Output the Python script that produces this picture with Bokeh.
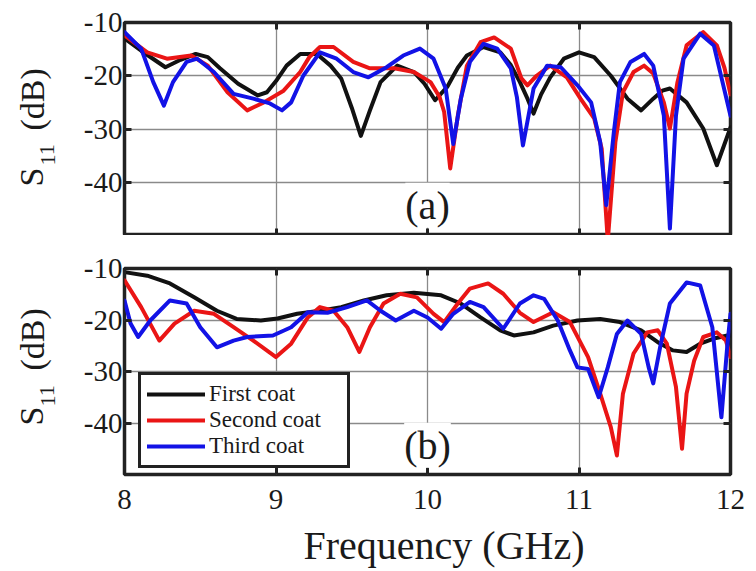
from bokeh.plotting import figure
from bokeh.layouts import column, row
from bokeh.models import (Range1d, Label, Legend, LegendItem, LinearAxis,
                          FixedTicker, Grid)
from bokeh.core.properties import value
from bokeh.embed import file_html
from bokeh.resources import INLINE

# ---------------- data (frequency in GHz, S11 in dB) ----------------
# panel (a)
a_first_x = [8.00, 8.11, 8.27, 8.37, 8.47, 8.55, 8.63, 8.75, 8.88, 8.94, 9.00, 9.07, 9.16, 9.27,
             9.36, 9.43, 9.50, 9.56, 9.62, 9.69, 9.80, 9.91, 9.98, 10.05, 10.13, 10.20, 10.26,
             10.37, 10.48, 10.55, 10.61, 10.66, 10.70, 10.75, 10.81, 10.90, 11.00, 11.10, 11.21,
             11.32, 11.41, 11.49, 11.55, 11.60, 11.71, 11.82, 11.91, 12.00]
a_first_y = [-13.0, -15.3, -18.4, -17.0, -15.9, -16.5, -18.6, -21.5, -23.7, -23.1, -21.0, -18.1,
             -15.9, -15.9, -18.1, -20.5, -26.0, -31.3, -26.5, -21.2, -18.1, -19.3, -21.5, -24.6,
             -22.1, -18.5, -16.2, -14.6, -15.6, -18.0, -21.2, -24.3, -27.1, -23.5, -20.3, -16.8,
             -15.6, -16.5, -20.0, -24.3, -26.5, -24.3, -22.8, -22.4, -25.0, -29.9, -36.8, -29.7]

a_second_x = [8.00, 8.15, 8.28, 8.44, 8.55, 8.68, 8.81, 8.92, 9.05, 9.16, 9.22, 9.29, 9.38, 9.51,
              9.62, 9.78, 9.91, 10.02, 10.08, 10.11, 10.15, 10.20, 10.26, 10.35, 10.44, 10.55,
              10.62, 10.66, 10.72, 10.81, 10.92, 11.01, 11.10, 11.15, 11.19, 11.24, 11.29, 11.36,
              11.43, 11.49, 11.56, 11.60, 11.65, 11.71, 11.82, 11.91, 11.96, 12.00]
a_second_y = [-12.4, -15.6, -16.8, -16.2, -18.1, -23.1, -26.5, -25.0, -22.8, -19.3, -16.5, -14.6,
              -14.6, -17.4, -18.6, -18.6, -19.3, -21.2, -24.0, -26.8, -37.4, -27.5, -18.1, -13.7,
              -12.8, -14.9, -20.5, -21.8, -20.0, -18.1, -20.3, -24.3, -28.0, -33.7, -51.0, -32.5,
              -23.1, -19.3, -18.1, -19.6, -25.0, -29.9, -21.2, -14.3, -11.8, -14.3, -18.5, -23.5]

a_third_x = [8.00, 8.11, 8.19, 8.26, 8.32, 8.41, 8.48, 8.59, 8.72, 8.85, 8.96, 9.04, 9.10, 9.18,
             9.29, 9.40, 9.51, 9.61, 9.73, 9.84, 9.95, 10.04, 10.12, 10.17, 10.22, 10.28, 10.37,
             10.46, 10.55, 10.59, 10.63, 10.70, 10.79, 10.88, 10.99, 11.08, 11.14, 11.18, 11.23,
             11.27, 11.34, 11.43, 11.49, 11.56, 11.60, 11.64, 11.69, 11.80, 11.89, 12.00]
a_third_y = [-11.8, -14.9, -21.2, -25.6, -21.2, -17.4, -16.8, -19.3, -23.4, -24.3, -25.2, -26.5,
             -25.0, -20.0, -15.6, -16.8, -19.3, -20.3, -18.4, -16.2, -14.9, -16.8, -22.4, -32.8,
             -24.3, -17.4, -14.0, -14.9, -18.6, -24.0, -33.1, -22.4, -18.1, -18.4, -21.8, -25.0,
             -32.5, -44.3, -30.6, -21.2, -17.4, -15.9, -18.1, -27.5, -48.7, -27.5, -16.8, -12.1,
             -14.3, -27.5]

# panel (b)
b_first_x = [8.00, 8.15, 8.30, 8.46, 8.61, 8.74, 8.90, 9.01, 9.14, 9.29, 9.43, 9.58, 9.73, 9.91,
             10.09, 10.22, 10.35, 10.48, 10.57, 10.70, 10.83, 10.99, 11.14, 11.27, 11.41, 11.52,
             11.62, 11.71, 11.80, 11.89, 11.98, 12.00]
b_first_y = [-10.7, -11.4, -12.9, -15.6, -18.2, -19.8, -20.1, -19.7, -18.8, -18.2, -17.5, -16.2,
             -15.2, -14.7, -15.2, -16.8, -19.5, -22.0, -23.0, -22.4, -21.1, -20.1, -19.8, -20.4,
             -22.0, -24.3, -25.9, -26.2, -24.6, -23.6, -23.0, -23.0]

b_second_x = [8.00, 8.11, 8.23, 8.33, 8.46, 8.59, 8.72, 8.85, 9.00, 9.10, 9.21, 9.29, 9.38, 9.47,
              9.55, 9.62, 9.71, 9.82, 9.93, 10.04, 10.11, 10.20, 10.28, 10.40, 10.50, 10.61, 10.70,
              10.83, 10.94, 11.06, 11.14, 11.21, 11.25, 11.29, 11.36, 11.45, 11.52, 11.58, 11.64,
              11.68, 11.71, 11.76, 11.82, 11.91, 11.97, 12.00]
b_second_y = [-12.3, -17.5, -24.0, -20.7, -18.2, -18.8, -21.4, -24.0, -27.2, -24.6, -19.5, -17.5,
              -18.2, -21.4, -26.2, -21.4, -16.8, -14.9, -15.6, -18.8, -20.4, -16.8, -13.9, -12.9,
              -14.9, -18.6, -20.4, -18.5, -20.4, -27.2, -34.3, -40.8, -46.3, -34.3, -26.5, -22.4,
              -22.0, -24.6, -33.0, -45.0, -34.3, -27.9, -23.3, -22.4, -24.0, -27.2]

b_third_x = [8.00, 8.04, 8.09, 8.17, 8.30, 8.41, 8.50, 8.61, 8.72, 8.81, 8.98, 9.10, 9.21, 9.34,
             9.47, 9.60, 9.69, 9.79, 9.91, 10.00, 10.09, 10.17, 10.28, 10.37, 10.50, 10.61, 10.70,
             10.77, 10.86, 10.94, 10.99, 11.06, 11.13, 11.19, 11.25, 11.32, 11.41, 11.46, 11.49,
             11.54, 11.60, 11.71, 11.80, 11.88, 11.94, 11.98, 12.00]
b_third_y = [-16.2, -20.7, -23.3, -20.1, -16.2, -16.8, -21.4, -25.3, -24.0, -23.3, -23.0, -21.4,
             -18.5, -18.6, -17.5, -16.2, -18.2, -20.1, -18.2, -19.5, -21.7, -18.8, -16.5, -17.5,
             -21.7, -16.8, -15.2, -15.9, -20.1, -25.9, -29.2, -29.5, -35.0, -29.2, -22.7, -20.1,
             -22.7, -29.2, -32.3, -24.6, -16.8, -12.7, -13.3, -21.4, -38.9, -24.6, -18.8]

series_names = ["First coat", "Second coat", "Third coat"]
series_colors = ["#111111", "#ea1515", "#1212e6"]
x_ticks = [8, 9, 10, 11, 12]
y_ticks = [-10, -20, -30, -40]
y_tick_labels = ["-10", "-20", "-30", "-40"]
x_grid = [9, 10, 11]
y_grid = [-20, -30, -40]
x_title = "Frequency (GHz)"

# y-axis title pieces (S, subscript 11, (dB)) for each panel, in the label strip
ylab_main_text = ["S", "(dB)", "S", "(dB)"]
ylab_main_x = [31, 32, 31, 32]
ylab_main_y = [385, 441, 146, 201]
ylab_sub_text = ["11", "11"]
ylab_sub_x = [47, 47]
ylab_sub_y = [406, 165]

FONT = "Liberation Serif"
FRAME = "#222222"
TXT = "#1a1a1a"
STRIP_W = 60
W = 756
H_TOP = 235
H_BOT = 288
H_XT = 48
PW = W - STRIP_W


def add_axis(p, side, ticks, show_labels):
    ax = LinearAxis(ticker=FixedTicker(ticks=ticks))
    ax.axis_line_color = None
    ax.major_tick_in = 7
    ax.major_tick_out = 0
    ax.major_tick_line_width = 3
    ax.major_tick_line_color = FRAME
    ax.minor_tick_line_color = None
    if show_labels:
        ax.major_label_text_font = FONT
        ax.major_label_text_font_size = "29px"
        ax.major_label_text_color = TXT
    else:
        ax.major_label_text_color = None
        ax.major_label_text_font_size = "1px"
        ax.major_label_standoff = 0
    p.add_layout(ax, side)
    return ax


def blank_fig(w, h, xr, yr):
    f = figure(width=w, height=h, x_range=Range1d(0, xr), y_range=Range1d(0, yr),
               output_backend="svg", toolbar_location=None,
               x_axis_location=None, y_axis_location=None,
               min_border=0, min_border_left=0, min_border_right=0,
               min_border_top=0, min_border_bottom=0)
    f.grid.visible = False
    f.outline_line_color = None
    f.background_fill_color = "white"
    f.border_fill_color = "white"
    return f


def make_panel(height, b_top, b_bottom):
    p = figure(width=PW, height=height, x_range=Range1d(8, 12),
               y_range=Range1d(-50, -10),
               output_backend="svg", toolbar_location=None,
               x_axis_location=None, y_axis_location=None,
               min_border_left=124 - STRIP_W, min_border_right=26,
               min_border_top=b_top, min_border_bottom=b_bottom)
    p.grid.visible = False
    p.add_layout(Grid(dimension=0, ticker=FixedTicker(ticks=x_grid),
                      grid_line_color="#8a8a8a", grid_line_width=1.3))
    p.add_layout(Grid(dimension=1, ticker=FixedTicker(ticks=y_grid),
                      grid_line_color="#8a8a8a", grid_line_width=1.3))
    p.outline_line_color = FRAME
    p.outline_line_width = 3.5
    p.background_fill_color = "white"
    p.border_fill_color = "white"
    yl = add_axis(p, "left", y_ticks, True)
    yl.major_label_standoff = 2
    yl.major_label_overrides = {t: s for t, s in zip(y_ticks, y_tick_labels)}
    add_axis(p, "right", y_ticks, False)
    add_axis(p, "above", x_ticks, False)
    return p


# ---------------- panel (a) ----------------
p1 = make_panel(H_TOP, 22, 0)
add_axis(p1, "below", x_ticks, False)
for xs, ys, c in zip([a_first_x, a_second_x, a_third_x], [a_first_y, a_second_y, a_third_y],
                     series_colors):
    p1.line(xs, ys, line_color=c, line_width=4, line_join="round", line_cap="round")
p1.add_layout(Label(x=10.0, y=-44.3, text="(a)", text_font=FONT, text_font_size="40px",
                    text_align="center", text_baseline="middle", text_color=TXT,
                    background_fill_color="white"))

# ---------------- panel (b) ----------------
p2 = make_panel(H_BOT, 33, H_BOT - 33 - 206)
xb = add_axis(p2, "below", x_ticks, True)
xb.major_label_standoff = 15

renderers = []
for xs, ys, c in zip([b_first_x, b_second_x, b_third_x], [b_first_y, b_second_y, b_third_y],
                     series_colors):
    renderers.append(p2.line(xs, ys, line_color=c, line_width=4, line_join="round",
                             line_cap="round"))
p2.add_layout(Label(x=10.0, y=-44.3, text="(b)", text_font=FONT, text_font_size="40px",
                    text_align="center", text_baseline="middle", text_color=TXT,
                    background_fill_color="white"))

legend = Legend(items=[LegendItem(label=n, renderers=[r]) for n, r in zip(series_names, renderers)],
                location=(14, 6))
legend.border_line_color = FRAME
legend.border_line_width = 3
legend.border_line_alpha = 1
legend.background_fill_color = "white"
legend.background_fill_alpha = 1
legend.label_text_font = FONT
legend.label_text_font_size = "23px"
legend.label_text_color = TXT
legend.glyph_width = 58
legend.glyph_height = 26
legend.label_height = 26
legend.label_width = 132
legend.label_standoff = 4
legend.padding = 6
legend.spacing = 0
legend.margin = 0
p2.add_layout(legend)

# ---------------- x-axis title strip ----------------
xt = blank_fig(PW, H_XT, PW, H_XT)
xt.text(x=[(124 + 730) / 2 - STRIP_W], y=[26], text=[x_title], text_font=value(FONT),
        text_font_size=value("40px"), text_align="center", text_baseline="middle",
        text_color=TXT)

# ---------------- label strip with S11 (dB) ----------------
strip = blank_fig(STRIP_W, H_TOP + H_BOT + H_XT, STRIP_W, H_TOP + H_BOT + H_XT)
strip.text(x=ylab_main_x, y=ylab_main_y, text=ylab_main_text, angle=1.5708,
           text_font=value(FONT), text_font_size=value("34px"), text_align="left",
           text_baseline="middle", text_color=TXT)
strip.text(x=ylab_sub_x, y=ylab_sub_y, text=ylab_sub_text, angle=1.5708,
           text_font=value(FONT), text_font_size=value("22px"), text_align="left",
           text_baseline="middle", text_color=TXT)

layout = row(strip, column(p1, p2, xt, spacing=0), spacing=0)
open("out.html", "w").write(file_html(layout, INLINE))
